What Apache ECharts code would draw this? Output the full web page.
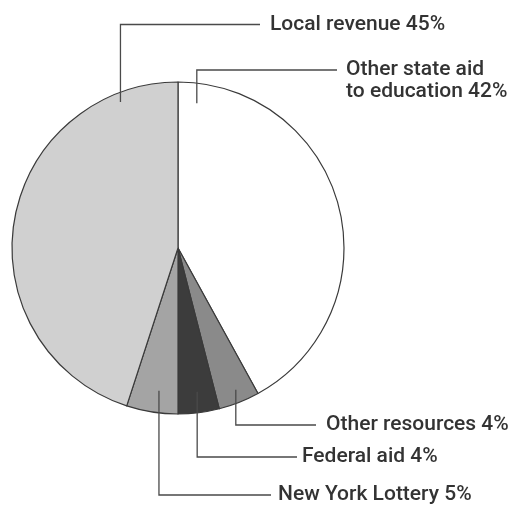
<!DOCTYPE html>
<html>
<head>
<meta charset="utf-8">
<script src="https://cdn.jsdelivr.net/npm/echarts@6/dist/echarts.min.js"></script>
<style>
  html, body { margin: 0; padding: 0; background: #ffffff; }
  #chart { width: 516px; height: 506px; }
</style>
</head>
<body>
<div id="chart"></div>
<script>
// Sources of school funding, clockwise from the top
const categories = ['Other state aid\nto education', 'Other resources', 'Federal aid', 'New York Lottery', 'Local revenue'];
const shares = [42, 4, 4, 5, 45];
const sliceColors = ['#ffffff', '#8a8a8a', '#3c3c3c', '#a4a4a4', '#d0d0d0'];

// Pie geometry (pixels)
const CX = 178, CY = 248, R = 166;

// Leader lines: start point in polar form (degrees clockwise from top, distance from centre),
// the y of the horizontal run, where the run ends, and the gap before the text.
const leaders = [
  { ang: 7.4,   dist: 146, elbowY: 70,   endX: 337, gap: 9, twoLines: true },
  { ang: 157.8, dist: 153, elbowY: 425,  endX: 316, gap: 10 },
  { ang: 172.4, dist: 145, elbowY: 457,  endX: 297, gap: 5 },
  { ang: 187.6, dist: 144, elbowY: 495,  endX: 271, gap: 7 },
  { ang: 338.5, dist: 157, elbowY: 24.5, endX: 260, gap: 10 }
];

const pieBase = {
  type: 'pie',
  center: [CX, CY],
  radius: R,
  startAngle: 90,
  clockwise: true,
  avoidLabelOverlap: false,
  emphasis: { disabled: true },
  silent: true
};

const chart = echarts.init(document.getElementById('chart'), null, { renderer: 'canvas' });

chart.setOption({
  backgroundColor: '#ffffff',
  animation: false,
  series: [
    // Filled slices
    Object.assign({}, pieBase, {
      z: 2,
      itemStyle: { borderColor: '#3a3a3a', borderWidth: 1.2 },
      label: { show: false },
      labelLine: { show: false },
      data: categories.map((name, i) => ({
        name: name,
        value: shares[i],
        itemStyle: { color: sliceColors[i] }
      }))
    }),
    // Same slices, transparent, carrying the callouts so their leaders sit above the fills
    Object.assign({}, pieBase, {
      z: 3,
      itemStyle: { color: 'rgba(0,0,0,0)', borderWidth: 0 },
      label: {
        show: true,
        position: 'outside',
        formatter: p => p.name + ' ' + p.value + '%',
        fontFamily: 'Roboto',
        fontSize: 21,
        fontWeight: 500,
        color: '#333333',
        lineHeight: 22
      },
      labelLine: {
        show: true,
        lineStyle: { color: '#4a4a4a', width: 1.3 }
      },
      labelLayout: function (params) {
        const L = leaders[params.dataIndex];
        const a = L.ang * Math.PI / 180;
        const sx = CX + L.dist * Math.sin(a);
        const sy = CY - L.dist * Math.cos(a);
        return {
          x: L.endX + L.gap,
          y: L.twoLines ? L.elbowY - 11 : L.elbowY,
          align: 'left',
          verticalAlign: L.twoLines ? 'top' : 'middle',
          labelLinePoints: [[sx, sy], [sx, L.elbowY], [L.endX, L.elbowY]]
        };
      },
      data: categories.map((name, i) => ({ name: name, value: shares[i] }))
    })
  ]
});
</script>
</body>
</html>
